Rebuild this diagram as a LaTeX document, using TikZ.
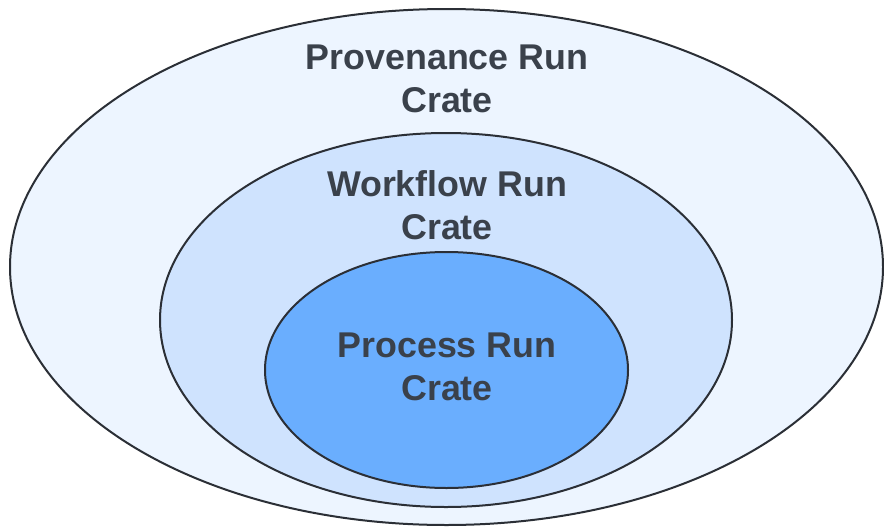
\documentclass[tikz,border=0pt]{standalone}
\usepackage{fontspec}
\setmainfont{Liberation Sans}
\usetikzlibrary{shapes.geometric}
\definecolor{outerfill}{HTML}{EDF5FF}
\definecolor{midfill}{HTML}{CFE3FE}
\definecolor{innerfill}{HTML}{6AAEFE}
\definecolor{edgecol}{HTML}{2B2F36}
\definecolor{textcol}{HTML}{3A414B}
\tikzset{
  ring/.style={ellipse, draw=edgecol, line width=2pt, inner sep=0pt},
  lbl/.style={text=textcol, align=center, inner sep=0pt,
    font=\fontsize{35.8}{43.5}\selectfont\bfseries}
}
\begin{document}
\begin{tikzpicture}[x=1pt,y=-1pt]
\useasboundingbox (0,0) rectangle (884,528);
\node[ring, fill=outerfill, minimum width=873pt, minimum height=516pt] (outer) at (446.5,267) {};
\node[ring, fill=midfill, minimum width=572pt, minimum height=374pt] (middle) at (446,320) {};
\node[ring, fill=innerfill, minimum width=363pt, minimum height=236pt] (inner) at (446.5,370) {};
\node[lbl] (tprov) at (447,79) {Provenance Run\\Crate};
\node[lbl] (twork) at (447,205) {Workflow Run\\Crate};
\node[lbl] (tproc) at (447,367) {Process Run\\Crate};
\end{tikzpicture}
\end{document}
